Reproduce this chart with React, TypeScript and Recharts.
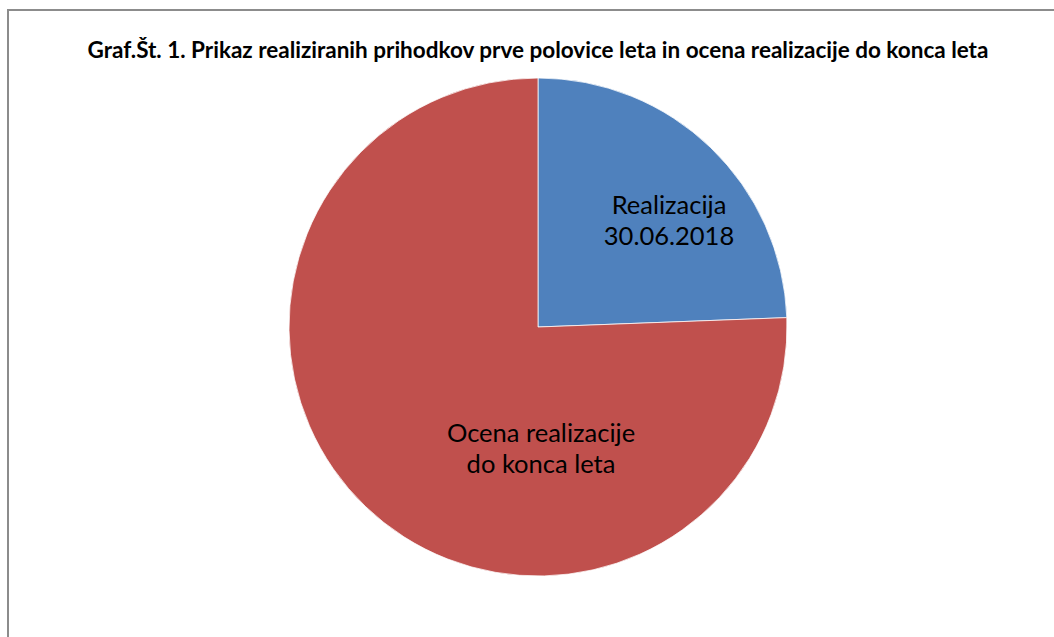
import React from 'react';
import { PieChart, Pie, Cell } from 'recharts';

// Deleži prihodkov (v %), odčitano s slike
const CATEGORIES = ['Realizacija 30.06.2018', 'Ocena realizacije do konca leta'];
const LABEL_LINES = [
    ['Realizacija', '30.06.2018'],
    ['Ocena realizacije', 'do konca leta'],
];
const SHARES = [24.4, 75.6];
const COLORS = ['#4F81BD', '#C0504D'];

const TITLE = 'Graf.Št. 1. Prikaz realiziranih prihodkov prve polovice leta in ocena realizacije do konca leta';

// odmik napisov od središča (Excel "best fit")
const LABEL_POS = [
    { dx: 131, dy: -113 },
    { dx: 3, dy: 115 },
];

const chartData = CATEGORIES.map((name, i) => ({ name, value: SHARES[i], lines: LABEL_LINES[i] }));

const renderLabel = (props: any) => {
    const { cx, cy, index } = props;
    const pos = LABEL_POS[index];
    const lines: string[] = chartData[index].lines;
    return (
        <text
            x={cx + pos.dx}
            y={cy + pos.dy}
            textAnchor="middle"
            fill="#000"
            style={{ fontFamily: 'Lato, sans-serif', fontSize: 25.5 }}
        >
            {lines.map((l, i) => (
                <tspan key={i} x={cx + pos.dx} dy={i === 0 ? 0 : 31}>{l}</tspan>
            ))}
        </text>
    );
};

export default function App() {
    return (
        <div style={{ position: 'absolute', left: 0, top: 0, width: 1054, height: 637, overflow: 'hidden', background: '#fff' }}>
            {/* okvir grafa */}
            <div style={{
                position: 'absolute', left: 7, top: 9, width: 1100, height: 700,
                border: '2px solid #8c8c8c', boxSizing: 'border-box',
            }} />
            <div style={{
                position: 'absolute', left: 0, top: 36, width: 1076, textAlign: 'center',
                fontFamily: 'Lato, sans-serif', fontWeight: 700, fontSize: 22.5, color: '#000',
                lineHeight: '27px', whiteSpace: 'nowrap',
            }}>
                {TITLE}
            </div>
            <div style={{ position: 'absolute', left: 0, top: 0 }}>
                <PieChart width={1054} height={637} margin={{ top: 0, right: 0, bottom: 0, left: 0 }}>
                    <Pie
                        data={chartData}
                        dataKey="value"
                        nameKey="name"
                        cx={538}
                        cy={327}
                        outerRadius={249}
                        startAngle={90}
                        endAngle={-270}
                        stroke="#ffffff"
                        strokeWidth={0.75}
                        label={renderLabel}
                        labelLine={false}
                        isAnimationActive={false}
                    >
                        {chartData.map((d, i) => <Cell key={d.name} fill={COLORS[i]} />)}
                    </Pie>
                </PieChart>
            </div>
        </div>
    );
}
